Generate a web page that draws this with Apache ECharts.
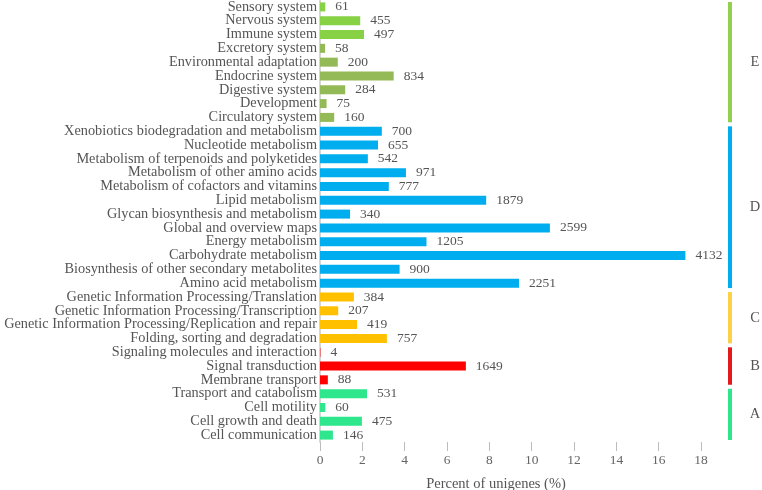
<!DOCTYPE html>
<html>
<head>
<meta charset="utf-8">
<script src="https://cdn.jsdelivr.net/npm/echarts@6/dist/echarts.min.js"></script>
<style>
  html, body { margin: 0; padding: 0; background: #fff; }
  #chart { width: 762px; height: 490px; }
</style>
</head>
<body>
<div id="chart"></div>
<script>
// categories listed bottom to top (category axis starts at the bottom)
var categories = [
    'Cell communication', 'Cell growth and death', 'Cell motility', 'Transport and catabolism',
    'Membrane transport', 'Signal transduction', 'Signaling molecules and interaction',
    'Folding, sorting and degradation', 'Genetic Information Processing/Replication and repair',
    'Genetic Information Processing/Transcription', 'Genetic Information Processing/Translation',
    'Amino acid metabolism', 'Biosynthesis of other secondary metabolites', 'Carbohydrate metabolism',
    'Energy metabolism', 'Global and overview maps', 'Glycan biosynthesis and metabolism',
    'Lipid metabolism', 'Metabolism of cofactors and vitamins', 'Metabolism of other amino acids',
    'Metabolism of terpenoids and polyketides', 'Nucleotide metabolism',
    'Xenobiotics biodegradation and metabolism',
    'Circulatory system', 'Development', 'Digestive system', 'Endocrine system',
    'Environmental adaptation', 'Excretory system', 'Immune system', 'Nervous system', 'Sensory system'
];

// number of unigenes (printed next to each bar)
var counts = [
    146, 475, 60, 531,
    88, 1649, 4,
    757, 419, 207, 384,
    2251, 900, 4132, 1205, 2599, 340, 1879, 777, 971, 542, 655, 700,
    160, 75, 284, 834, 200, 58, 497, 455, 61
];

// percent of unigenes
var percents = [
    0.61, 1.98, 0.25, 2.22,
    0.37, 6.89, 0.02,
    3.16, 1.75, 0.86, 1.60,
    9.40, 3.76, 17.26, 5.03, 10.86, 1.42, 7.85, 3.25, 4.06, 2.26, 2.74, 2.92,
    0.67, 0.31, 1.19, 3.48, 0.84, 0.24, 2.08, 1.90, 0.25
];

var xTicks = [0, 2, 4, 6, 8, 10, 12, 14, 16, 18];

// class brackets on the right: name, first and last category index
var groupNames = ['A', 'B', 'C', 'D', 'E'];
var groupFirst = [0, 4, 7, 11, 23];
var groupLast = [3, 6, 10, 22, 31];

var groupColors = ['#2ee68c', '#e31a1c', '#fdd04a', '#00aeef', '#92d050'];
var barColors = categories.map(function (name, i) {
    if (i <= 3) return '#2ee68c';
    if (i <= 6) return '#ff0000';
    if (i <= 10) return '#ffc000';
    if (i <= 22) return '#00aeef';
    if (i >= 29) return '#86d144';
    return '#94b957';
});

var chart = echarts.init(document.getElementById('chart'));

var serif = '"Liberation Serif", "Times New Roman", serif';

var option = {
    animation: false,
    grid: { left: 320, right: 44, top: 0, bottom: 48, outerBoundsMode: 'none', containLabel: false },
    xAxis: {
        type: 'value',
        min: 0,
        max: 18.8,
        interval: 2,
        name: 'Percent of unigenes (%)',
        nameLocation: 'middle',
        nameGap: 35,
        nameTextStyle: { fontFamily: serif, fontSize: 14.5, color: '#555', padding: [0, 46, 0, 0] },
        axisLine: { lineStyle: { color: '#bdbdbd' } },
        axisTick: { show: true, length: 9, lineStyle: { color: '#bdbdbd' } },
        axisLabel: {
            fontFamily: serif, fontSize: 13.5, color: '#666', margin: 11,
            showMaxLabel: false,
            formatter: function (v) { return xTicks.indexOf(v) >= 0 ? String(v) : ''; }
        },
        splitLine: { show: false }
    },
    yAxis: {
        type: 'category',
        data: categories,
        axisLine: { lineStyle: { color: '#d6d6d6', width: 2 } },
        axisTick: { show: false },
        axisLabel: { interval: 0, fontFamily: serif, fontSize: 14.3, color: '#555', margin: 3 }
    },
    series: [{
        type: 'bar',
        barWidth: 9,
        data: percents.map(function (v, i) {
            return { value: v, itemStyle: { color: barColors[i] } };
        }),
        label: {
            show: true,
            position: 'right',
            distance: 10,
            fontFamily: serif,
            fontSize: 13.5,
            color: '#555',
            formatter: function (p) { return counts[p.dataIndex]; }
        }
    }, {
        type: 'custom',
        clip: false,
        silent: true,
        data: groupNames.map(function (g, i) { return [0, groupFirst[i], groupLast[i]]; }),
        renderItem: function (params, api) {
            var cs = params.coordSys;
            var band = api.size([0, 1])[1];
            var yBottom = api.coord([0, api.value(1)])[1] + band / 2 - 2;
            var yTop = api.coord([0, api.value(2)])[1] - band / 2 + 2;
            var x = cs.x + cs.width + 10;
            var idx = params.dataIndex;
            return {
                type: 'group',
                children: [{
                    type: 'rect',
                    shape: { x: x, y: yTop, width: 4, height: yBottom - yTop },
                    style: { fill: groupColors[idx] }
                }, {
                    type: 'text',
                    style: {
                        text: groupNames[idx],
                        x: x + 27,
                        y: (yTop + yBottom) / 2,
                        align: 'center',
                        verticalAlign: 'middle',
                        fill: '#555',
                        font: '14.5px ' + serif
                    }
                }]
            };
        }
    }]
};

chart.setOption(option);
</script>
</body>
</html>
